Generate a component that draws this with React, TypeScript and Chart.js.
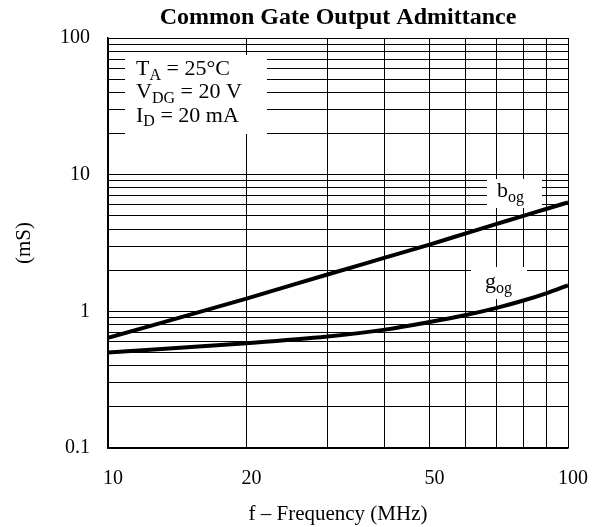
import React, { useEffect, useRef } from 'react';
import { Chart, registerables } from 'chart.js';

Chart.register(...registerables);

// ---- data ----
const frequencyMHz = [10, 20, 30, 40, 50, 60, 70, 80, 90, 100];
const bogValues = [0.64, 1.24, 1.86, 2.47, 3.08, 3.72, 4.36, 5.0, 5.63, 6.27];
const gogValues = [0.5, 0.585, 0.655, 0.735, 0.835, 0.94, 1.06, 1.2, 1.36, 1.55];

const xTickLabels = [10, 20, 50, 100];
const yTickLabels = [0.1, 1, 10, 100];
const gridMultipliers = [1, 2, 3, 4, 5, 6, 7, 8, 9];
const xDecades = [10];
const yDecades = [0.1, 1, 10];

const chartTitle = 'Common Gate Output Admittance';
const conditionLines = [
  { main: 'T', sub: 'A', rest: ' = 25°C' },
  { main: 'V', sub: 'DG', rest: ' = 20 V' },
  { main: 'I', sub: 'D', rest: ' = 20 mA' },
];

const FONT = '"Liberation Serif", "Times New Roman", serif';

const buildGrid = (decades: number[], last: number) =>
  decades
    .flatMap((d) => gridMultipliers.map((m) => Number((d * m).toPrecision(6))))
    .concat([last]);

const xGrid = buildGrid(xDecades, 100);
const yGrid = buildGrid(yDecades, 100);

const isLabel = (list: number[], v: number) =>
  list.some((l) => Math.abs(l - v) / l < 1e-6);

function drawSub(
  ctx: CanvasRenderingContext2D,
  x: number,
  y: number,
  main: string,
  sub: string,
  rest: string,
  size: number,
  subSize: number,
  drop: number
) {
  ctx.font = `${size}px ${FONT}`;
  ctx.fillText(main, x, y);
  let cx = x + ctx.measureText(main).width;
  ctx.font = `${subSize}px ${FONT}`;
  ctx.fillText(sub, cx, y + drop);
  cx += ctx.measureText(sub).width;
  if (rest) {
    ctx.font = `${size}px ${FONT}`;
    ctx.fillText(rest, cx, y);
  }
}

const annotationPlugin = {
  id: 'annotations',
  beforeDatasetsDraw(chart: any) {
    const { ctx, chartArea: a } = chart;
    ctx.save();
    ctx.fillStyle = '#fff';
    ctx.fillRect(a.left + 17, a.top + 17, 142, 79);
    ctx.fillRect(a.left + 379, a.top + 141, 55, 29);
    ctx.fillRect(a.left + 363, a.top + 229, 56, 32);
    ctx.fillStyle = '#000';
    ctx.textBaseline = 'alphabetic';
    ctx.textAlign = 'left';
    conditionLines.forEach((l, i) => {
      drawSub(ctx, a.left + 28, a.top + 37 + i * 23.3, l.main, l.sub, l.rest, 22, 16, 4.5);
    });
    drawSub(ctx, a.left + 389, a.top + 159, 'b', 'og', '', 22, 16, 4.5);
    drawSub(ctx, a.left + 377, a.top + 250, 'g', 'og', '', 22, 16, 4.5);
    ctx.restore();
  },
  afterDraw(chart: any) {
    const { ctx, chartArea: a } = chart;
    ctx.save();
    ctx.fillStyle = '#000';
    ctx.font = `bold 24px ${FONT}`;
    ctx.textAlign = 'center';
    ctx.textBaseline = 'middle';
    ctx.fillText(chartTitle, (a.left + a.right) / 2, 18);
    ctx.restore();
  },
};

export default function App() {
  const ref = useRef<HTMLCanvasElement>(null);

  useEffect(() => {
    const toPoints = (vals: number[]) => frequencyMHz.map((f, i) => ({ x: f, y: vals[i] }));
    const lineStyle = {
      borderColor: '#000',
      borderWidth: 4,
      pointRadius: 0,
      tension: 0.4,
      cubicInterpolationMode: 'monotone' as const,
      fill: false,
    };
    const chart = new Chart(ref.current!, {
      type: 'line',
      data: {
        datasets: [
          { label: 'bog', data: toPoints(bogValues), ...lineStyle },
          { label: 'gog', data: toPoints(gogValues), ...lineStyle },
        ],
      },
      options: {
        animation: false,
        responsive: true,
        maintainAspectRatio: false,
        layout: { padding: { left: 0, right: 25, top: 38, bottom: 0 } },
        plugins: {
          legend: { display: false },
          tooltip: { enabled: false },
          title: { display: false },
        },
        scales: {
          x: {
            type: 'logarithmic',
            position: 'bottom',
            min: 10,
            max: 100,
            afterBuildTicks: (s: any) => {
              s.ticks = xGrid.map((v) => ({ value: v }));
            },
            afterFit: (s: any) => {
              s.height = 79;
              s.paddingLeft = 0;
              s.paddingRight = 0;
            },
            ticks: {
              autoSkip: false,
              maxRotation: 0,
              padding: 19,
              labelOffset: 5,
              color: '#000',
              font: { family: FONT, size: 20 },
              callback: (v: any) => (isLabel(xTickLabels, Number(v)) ? String(Number(v)) : ''),
            },
            grid: { color: '#000', lineWidth: 1, drawTicks: false },
            border: { color: '#000', width: 1.5 },
            title: {
              display: true,
              text: 'f – Frequency (MHz)',
              color: '#000',
              font: { family: FONT, size: 21 },
              padding: { top: 0, bottom: 0 },
            },
          },
          y: {
            type: 'logarithmic',
            position: 'left',
            min: 0.1,
            max: 100,
            afterBuildTicks: (s: any) => {
              s.ticks = yGrid.map((v) => ({ value: v }));
            },
            afterFit: (s: any) => {
              s.width = 108;
              s.paddingTop = 0;
              s.paddingBottom = 0;
            },
            ticks: {
              autoSkip: false,
              padding: 18,
              color: '#000',
              font: { family: FONT, size: 20 },
              callback: (v: any) => (isLabel(yTickLabels, Number(v)) ? String(Number(v)) : ''),
            },
            grid: { color: '#000', lineWidth: 1, drawTicks: false },
            border: { color: '#000', width: 1.5 },
            title: {
              display: true,
              text: '(mS)',
              color: '#000',
              font: { family: FONT, size: 21 },
              padding: { top: 12, bottom: 0 },
            },
          },
        },
      },
      plugins: [annotationPlugin],
    });
    return () => chart.destroy();
  }, []);

  return (
    <div style={{ position: 'fixed', left: 0, top: 0, width: 593, height: 527, background: '#fff' }}>
      <canvas ref={ref} />
    </div>
  );
}
